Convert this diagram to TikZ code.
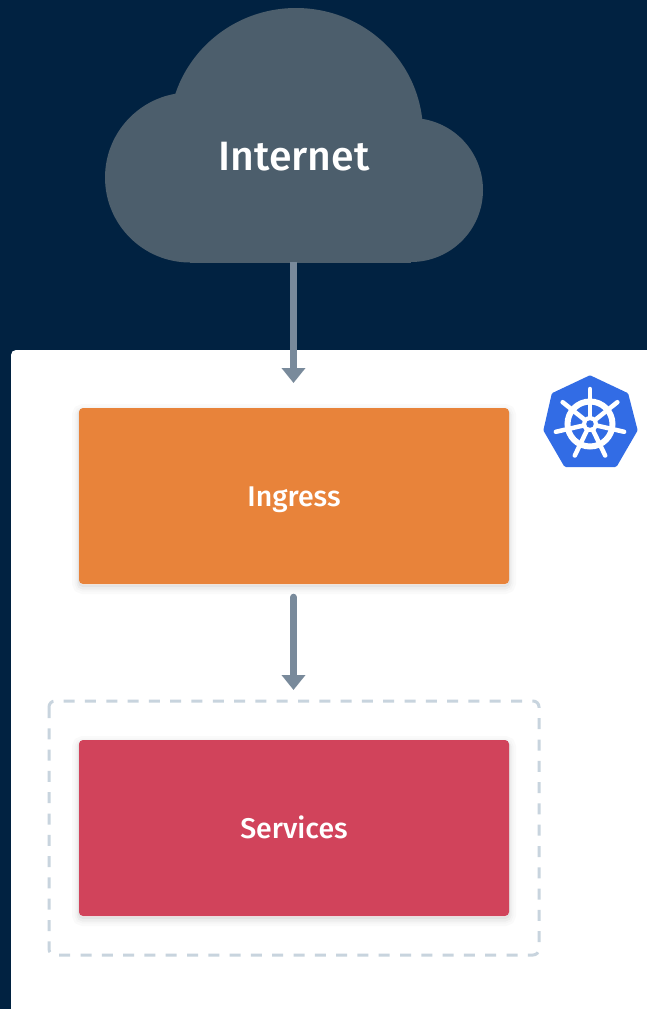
\documentclass[tikz,border=0pt]{standalone}
\usepackage{fontspec}
\setmainfont{Fira Sans}
\newfontfamily\labelfont{Fira Sans Medium}
\usetikzlibrary{arrows.meta}
\definecolor{navy}{HTML}{012241}
\definecolor{cloudc}{HTML}{4C5E6C}
\definecolor{arrowc}{HTML}{798A9B}
\definecolor{orangec}{HTML}{E8833A}
\definecolor{redc}{HTML}{D1435B}
\definecolor{dashc}{HTML}{C8D4DE}
\definecolor{kubec}{HTML}{326CE5}
\tikzset{
  softshadow/.style={
    preaction={draw=black,draw opacity=.018,line width=14pt,transform canvas={yshift=-3pt}},
    preaction={draw=black,draw opacity=.02,line width=9pt,transform canvas={yshift=-3pt}},
    preaction={draw=black,draw opacity=.03,line width=5pt,transform canvas={yshift=-3pt}},
    preaction={draw=black,draw opacity=.04,line width=2pt,transform canvas={yshift=-2pt}}},
  card/.style={rectangle,rounded corners=4pt,minimum width=430pt,minimum height=176pt,inner sep=0pt,text=white,softshadow,text height=20pt,text depth=0pt,font=\labelfont\fontsize{28.5}{32}\selectfont},
  flow/.style={arrowc,line width=7pt,line cap=round,-{Triangle[width=23pt,length=15pt]}},
  spoke/.style={white,line width=4.5pt,line cap=round}
}
\begin{document}
\begin{tikzpicture}[x=1pt,y=-1pt]
\useasboundingbox (0,0) rectangle (647,1009);
\fill[navy] (0,0) rectangle (647,1009);
% cloud
\fill[cloudc] (296,133) ellipse[x radius=127,y radius=125];
\fill[cloudc] (190,177.5) circle[radius=85];
\fill[cloudc] (411,190) circle[radius=72];
\fill[cloudc] (190,150) rectangle (411,262.5);
\node[text=white,inner sep=0pt,font=\labelfont\fontsize{41}{48}\selectfont] (internet) at (294,157) {Internet};
\coordinate (cloudbase) at (293.5,262);
\coordinate (ingresstop) at (293.5,383);
% panel
\fill[white,rounded corners=5pt] (11,350) rectangle (680,1040);
% arrows and boxes
\draw[flow,line cap=butt] (cloudbase) -- (ingresstop);
\node[card,fill=orangec] (ingress) at (294,496) {Ingress};
\draw[dashc,line width=3pt,rounded corners=6pt,dash pattern=on 11pt off 10.3pt] (49,701) rectangle (539,955);
\coordinate (group) at (293.5,701);
\node[card,fill=redc] (services) at (294,828) {Services};
\draw[flow,shorten <=13pt,shorten >=11pt] (ingress.south -| group) -- (group);
% kubernetes logo
\fill[kubec,draw=kubec,line width=5pt,line join=round]
  (590,378) -- (626,395) -- (635,430) -- (615,464.5) -- (566,464.5) -- (546,430) -- (554,395) -- cycle;
\draw[white,line width=6pt] (590,424) circle[radius=22.5];
\foreach \k in {0,...,6}{
  \draw[spoke] (590,424) -- ++({90+\k*360/7}:-35);
}
\fill[white] (590,424) circle[radius=8];
\fill[kubec] (590,424) circle[radius=3.8];
\end{tikzpicture}
\end{document}
